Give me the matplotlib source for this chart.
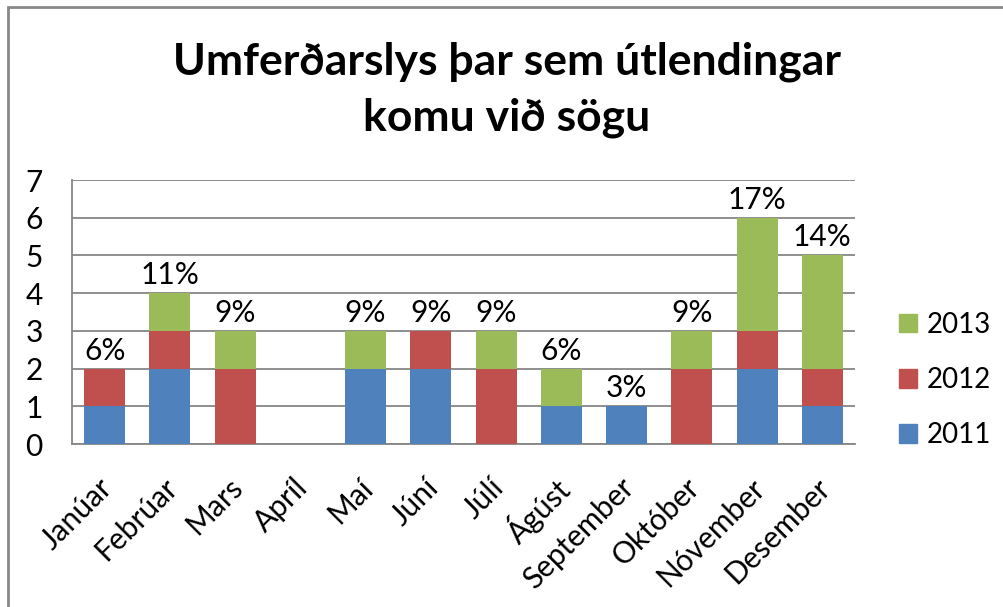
import matplotlib
matplotlib.use("Agg")
import matplotlib.pyplot as plt
from matplotlib.patches import Patch, Rectangle
from matplotlib.transforms import ScaledTranslation
import numpy as np

months = ["Janúar", "Febrúar", "Mars", "Apríl", "Maí", "Júní", "Júlí",
          "Ágúst", "September", "Október", "Nóvember", "Desember"]
y2011 = [1, 2, 0, 0, 2, 2, 0, 1, 1, 0, 2, 1]
y2012 = [1, 1, 2, 0, 0, 1, 2, 0, 0, 2, 1, 1]
y2013 = [0, 1, 1, 0, 1, 0, 1, 1, 0, 1, 3, 3]
pct_labels = ["6%", "11%", "9%", "", "9%", "9%", "9%", "6%", "3%", "9%", "17%", "14%"]
title_lines = ["Umferðarslys þar sem útlendingar", "komu við sögu"]

c2011 = "#4F81BD"
c2012 = "#C0504D"
c2013 = "#9BBB59"
grid_c = "#868686"

plt.rcParams['font.family'] = ['Lato', 'DejaVu Sans']
fs = 20
fs_lab = 21.5

fig = plt.figure(figsize=(10.04, 6.07), dpi=100)
ax = fig.add_axes([72/1004, 1-444/607, (855-72)/1004, (444-180)/607])

x = np.arange(len(months))
w = 0.63
a = np.array(y2011)
b = np.array(y2012)
c = np.array(y2013)
ax.bar(x, a, w, color=c2011, zorder=3)
ax.bar(x, b, w, bottom=a, color=c2012, zorder=3)
ax.bar(x, c, w, bottom=a + b, color=c2013, zorder=3)

tot = a + b + c
for xi, t, lab in zip(x, tot, pct_labels):
    if lab:
        ax.annotate(lab, (xi, t), xytext=(0, 6.5), textcoords="offset points",
                    ha="center", va="baseline", fontsize=fs_lab, color="black")

ax.set_xlim(-0.5, len(months) - 0.5)
ax.set_ylim(0, 7)
ax.set_yticks(range(0, 8))
ax.yaxis.grid(True, color=grid_c, linewidth=1.3, zorder=0)
ax.set_axisbelow(True)
for s in ["top", "right"]:
    ax.spines[s].set_visible(False)
for s in ["left", "bottom"]:
    ax.spines[s].set_color(grid_c)
    ax.spines[s].set_linewidth(1.3)
ax.tick_params(axis="y", length=0, pad=21, labelsize=fs_lab)
ax.set_xticks(x)
ax.set_xticklabels(months, rotation=45, ha="right", va="center",
                   rotation_mode="anchor", fontsize=fs_lab)
ax.tick_params(axis="x", length=0, pad=28)
shift = ScaledTranslation(2/72, 0, fig.dpi_scale_trans)
for lbl in ax.get_xticklabels():
    lbl.set_transform(lbl.get_transform() + shift)

fig.text(0.505, 1 - 74/607, title_lines[0], ha="center", va="baseline",
         fontsize=32, fontweight="bold")
fig.text(0.505, 1 - 131/607, title_lines[1], ha="center", va="baseline",
         fontsize=32, fontweight="bold")

handles = [Patch(color=c2013), Patch(color=c2012), Patch(color=c2011)]
fig.legend(handles, ["2013", "2012", "2011"], loc="center left",
           bbox_to_anchor=(899/1004, 1-380/607), frameon=False, fontsize=fs,
           handlelength=0.65, handleheight=0.65, handletextpad=0.35,
           labelspacing=1.05, borderpad=0, borderaxespad=0)

fig.add_artist(Rectangle((8/1004, -0.1), 1.2, 1 - 7/607 + 0.1,
                         transform=fig.transFigure, fill=False,
                         edgecolor="#888888", linewidth=2))

fig.savefig("out.png", dpi=100, facecolor="white")
